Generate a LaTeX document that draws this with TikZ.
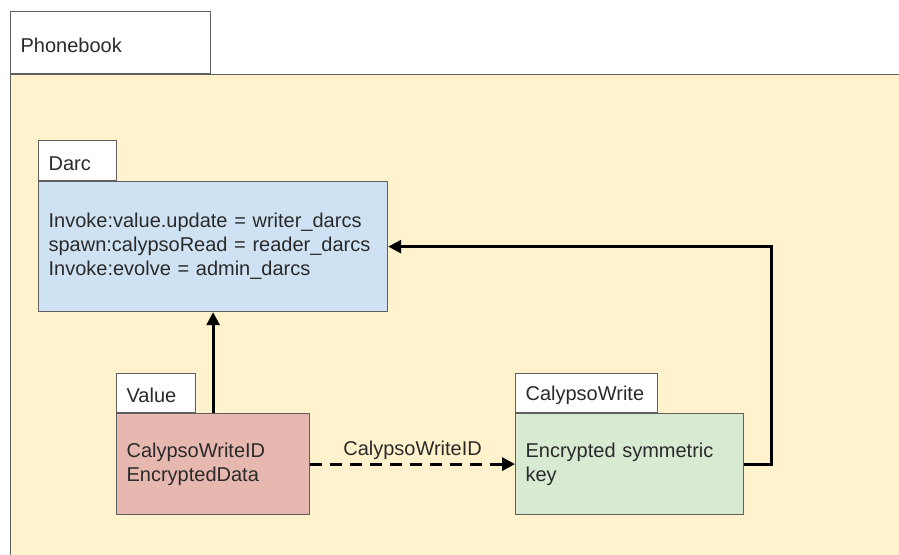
\documentclass[tikz,border=0pt]{standalone}
\usepackage{fontspec}
\setmainfont{Liberation Sans}
\usepackage{xcolor}
\usetikzlibrary{arrows.meta,positioning}
\definecolor{cBook}{HTML}{FFF2CC}
\definecolor{cDarc}{HTML}{CFE2F3}
\definecolor{cVal}{HTML}{E6B8AF}
\definecolor{cWrite}{HTML}{D9EAD3}
\definecolor{cEdge}{HTML}{5F5F5F}
\definecolor{cText}{HTML}{2A2A2A}

\begin{document}
\begin{tikzpicture}[x=1pt,y=-1pt,
   box/.style={draw=cEdge,line width=1.2pt,align=left,inner xsep=10pt,inner ysep=0pt,
               text=cText,font=\fontsize{20}{24}\selectfont},
   body/.style={box,anchor=north west},
   tab/.style={box,fill=white,text height=20pt,above right=0pt of #1},
   arr/.style={-{Triangle[length=13pt,width=13pt]},line width=3pt,black}]
  \clip (0,0) rectangle (899,554);
  % outer container, runs off the page on the right and bottom
  \node[body,fill=cBook,minimum width=1000pt,minimum height=600pt] (book) at (10,74) {};
  \node[tab=book.north west,text width=180pt,minimum height=62pt] (bookT) {Phonebook};
  % the three objects
  \node[body,fill=cDarc,text width=329pt,minimum height=130pt] (darc) at (38,181)
    {Invoke:value.update = writer\_darcs\\ spawn:calypsoRead = reader\_darcs\\ Invoke:evolve = admin\_darcs};
  \node[tab=darc.north west,text width=58pt,minimum height=40pt] (darcT) {Darc};
  \node[body,fill=cVal,text width=173pt,minimum height=101pt] (val) at (116,413)
    {CalypsoWriteID\\ EncryptedData};
  \node[tab=val.north west,text width=59pt,minimum height=39pt] (valT) {Value};
  \node[body,fill=cWrite,text width=208pt,minimum height=101pt] (cw) at (515,413)
    {Encrypted symmetric\\ key};
  \node[tab=cw.north west,text width=122pt,minimum height=39pt] (cwT) {CalypsoWrite};
  % links
  \draw[arr] (val.north) -- (darc.south);
  \draw[arr,dash pattern=on 12pt off 8pt] (val.east) --
    node[above,text=cText,font=\fontsize{20}{24}\selectfont] (idL) {CalypsoWriteID} (cw.west);
  \draw[arr] (cw.east) -- ++(27,0) |- (darc.east);
\end{tikzpicture}
\end{document}
